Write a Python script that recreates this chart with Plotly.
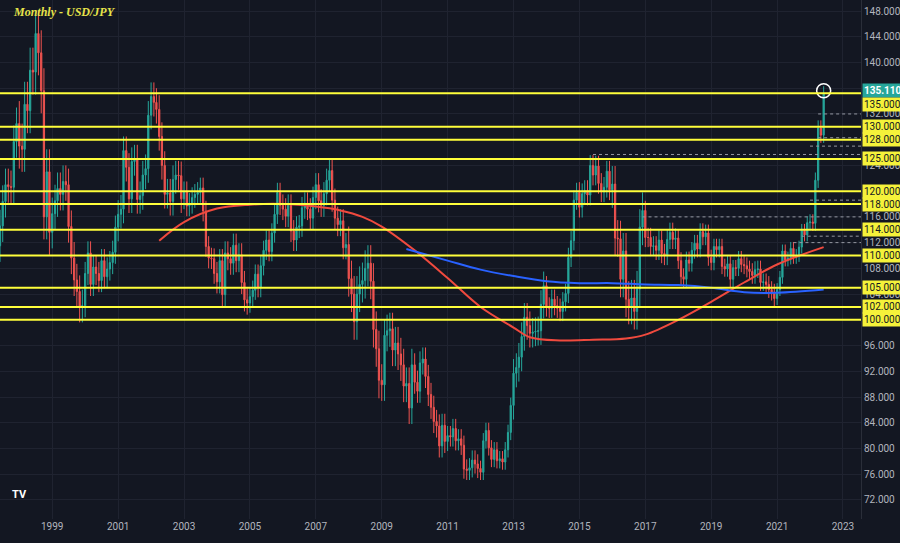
import plotly.graph_objects as go
import pandas as pd

start = "1997-06-01"
closes = [
 114.6,118.4,121.0,120.7,120.6,127.7,130.5,
 127.0,126.5,133.5,132.5,138.8,138.5,144.5,141.5,135.6,116.0,123.0,113.6,
 116.5,118.5,120.4,119.5,121.5,121.0,114.5,109.6,106.2,104.4,102.1,102.2,
 107.2,110.4,105.5,108.2,107.2,106.1,109.2,106.7,107.9,108.9,110.5,114.4,
 116.4,117.2,126.3,123.7,118.8,124.6,125.0,118.7,119.3,122.5,123.5,131.8,
 134.7,133.8,132.7,128.5,124.0,119.5,119.7,118.4,121.8,122.5,122.4,118.8,
 119.9,117.7,118.1,119.0,119.5,119.8,120.5,116.9,111.4,109.6,109.5,107.2,
 105.9,109.2,103.9,110.4,109.5,108.8,111.6,109.2,110.1,105.8,103.1,102.6,
 103.6,104.6,107.1,105.0,108.4,110.8,112.4,110.6,113.5,116.4,119.8,117.8,
 117.2,116.1,117.8,113.8,112.4,114.4,114.6,117.4,118.1,117.2,115.8,119.0,
 121.0,118.5,117.8,119.6,121.7,123.2,118.6,115.8,114.8,115.4,111.2,111.7,
 106.4,104.0,99.7,104.0,105.5,106.1,108.0,108.8,106.0,98.5,95.5,90.6,
 89.9,97.6,98.3,98.6,95.3,96.4,94.7,93.0,89.7,90.1,86.3,93.0,
 90.3,88.9,93.3,93.9,91.2,88.4,86.4,84.2,83.5,80.4,83.6,81.1,
 82.0,81.8,83.1,81.2,81.5,80.5,76.8,76.6,77.0,78.2,77.6,76.9,
 76.3,81.2,82.8,80.1,78.3,79.8,78.1,78.4,77.9,79.8,82.5,86.7,
 91.7,92.6,94.2,97.4,100.4,99.1,97.9,98.1,98.2,98.3,102.4,105.3,
 102.0,101.8,103.2,102.2,101.8,101.3,102.8,104.1,109.7,112.3,118.6,119.8,
 117.5,119.6,120.1,119.4,124.0,122.5,123.9,121.2,119.9,120.6,123.1,120.2,
 121.1,112.7,112.6,106.3,110.7,103.2,102.1,103.4,101.3,104.8,114.4,117.0,
 112.8,112.8,111.4,111.5,110.8,112.4,110.3,110.0,112.5,113.6,112.5,112.7,
 109.2,106.7,106.3,109.3,108.8,110.8,111.9,111.0,113.7,112.9,113.5,109.7,
 108.9,111.4,110.9,111.4,108.3,107.9,108.7,106.3,108.1,108.0,109.5,108.6,
 108.4,107.9,107.5,106.9,107.8,107.9,105.8,105.9,105.5,104.7,104.3,103.3,
 104.7,106.6,110.7,109.3,109.6,111.1,109.7,110.0,111.3,113.9,113.2,115.1,
 115.2,115.0,121.7,129.8,128.7,135.11]
first_open = 111.5
# typical wick size per year 1997..2022
year_wick = {1997:2.5,1998:3.5,1999:2.5,2000:1.8,2001:2.2,2002:2.2,2003:1.6,2004:1.8,
             2005:1.5,2006:1.7,2007:1.8,2008:2.8,2009:2.5,2010:1.8,2011:1.5,2012:1.2,
             2013:2.2,2014:1.5,2015:1.6,2016:2.8,2017:1.5,2018:1.3,2019:1.2,2020:1.3,
             2021:1.0,2022:1.2}

dates = pd.date_range(start, periods=len(closes), freq="MS")
opens = [first_open] + closes[:-1]
highs, lows = [], []
for d, o, c in zip(dates, opens, closes):
    w = year_wick[d.year]
    highs.append(max(o, c) + w)
    lows.append(min(o, c) - w)

red_x = ["2002-04-01","2003-01-01","2004-01-01","2005-01-01","2006-01-01","2007-01-01","2007-10-01",
         "2008-06-01","2009-01-01","2010-01-01","2011-01-01","2012-01-01","2013-01-01","2013-07-01",
         "2014-06-01","2015-06-01","2016-06-01","2017-01-01","2018-01-01","2019-01-01","2020-01-01",
         "2021-01-01","2022-06-01"]
red_y = [112.3,115.2,117.3,117.9,118.0,117.6,117.0,
         116.0,114.5,110.8,106.5,102.0,98.8,97.3,
         96.8,96.9,97.1,97.7,100.0,102.8,105.8,108.6,111.3]
blue_x = ["2009-10-01","2011-01-01","2012-01-01","2013-01-01","2014-01-01","2015-01-01","2016-01-01",
          "2017-01-01","2018-01-01","2019-01-01","2020-01-01","2021-01-01","2022-06-01"]
blue_y = [111.0,109.2,107.8,106.8,106.0,105.7,105.7,105.5,105.4,105.0,104.3,104.2,104.7]

levels = [135.11,135.0,130.0,128.0,125.0,120.0,118.0,114.0,110.0,105.0,102.0,100.0]
line_levels = [135.2,130.0,128.0,125.0,120.0,118.0,114.0,110.0,105.0,102.0,100.0]
dotted = [("2022-04-01",132.0),("2022-04-01",128.3),("2022-01-01",127.0),("2015-06-01",125.7),
          ("2022-01-01",118.6),("2016-12-01",116.0),("2021-10-01",113.0),("2021-07-01",112.0)]
tick_vals = list(range(72, 152, 4))
year_ticks = [str(y) for y in range(1999, 2024, 2)]

bg = "#131722"
fig = go.Figure()
fig.add_trace(go.Candlestick(x=dates, open=opens, high=highs, low=lows, close=closes,
    increasing=dict(line=dict(color="#26a69a", width=1), fillcolor="#26a69a"),
    decreasing=dict(line=dict(color="#ef5350", width=1), fillcolor="#ef5350"),
    whiskerwidth=0, showlegend=False))
fig.add_trace(go.Scatter(x=red_x, y=red_y, mode="lines", line=dict(color="#f04a3e", width=2, shape="spline"), showlegend=False))
fig.add_trace(go.Scatter(x=blue_x, y=blue_y, mode="lines", line=dict(color="#2962ff", width=2, shape="spline"), showlegend=False))

for x0, y in dotted:
    fig.add_shape(type="line", xref="x", yref="y", x0=x0, x1="2023-07-20", y0=y, y1=y,
                  line=dict(color="#9598a1", width=1, dash="dot"))
for y in line_levels:
    fig.add_shape(type="line", xref="paper", yref="y", x0=0, x1=1, y0=y, y1=y,
                  line=dict(color="#ffff3b", width=2))
fig.add_trace(go.Scatter(x=[dates[-1]], y=[135.6], mode="markers",
    marker=dict(symbol="circle-open", size=14, color="white", line=dict(width=1.5, color="white")), showlegend=False))

lab_font = dict(color="#131722", size=10, family="Roboto")
for v in levels:
    if v == 135.11:
        fig.add_annotation(x=1, xref="paper", y=135.6, yref="y", text="<b>135.110</b>", showarrow=False,
            xanchor="left", bgcolor="#26a69a", font=dict(color="white", size=10, family="Roboto"), borderpad=1, xshift=1)
    elif v == 135.0:
        fig.add_annotation(x=1, xref="paper", y=133.5, yref="y", text="135.000", showarrow=False,
            xanchor="left", bgcolor="#f5f23a", font=lab_font, borderpad=1, xshift=1)
    else:
        fig.add_annotation(x=1, xref="paper", y=v, yref="y", text=f"{v:.3f}", showarrow=False,
            xanchor="left", bgcolor="#f5f23a", font=lab_font, borderpad=1, xshift=1)

fig.add_annotation(x=0.013, xref="paper", y=0.995, yref="paper", text="<b><i>Monthly - USD/JPY</i></b>", showarrow=False,
    xanchor="left", yanchor="top", font=dict(color="#e6e34a", size=12, family="Liberation Serif"))
fig.add_annotation(x=0.012, xref="paper", y=0.03, yref="paper", text="<b>TV</b>", showarrow=False,
    xanchor="left", yanchor="bottom", font=dict(color="white", size=11, family="Roboto"))

fig.update_layout(width=900, height=543, margin=dict(l=0, r=39, t=0, b=24),
    paper_bgcolor=bg, plot_bgcolor=bg, font=dict(family="Roboto", color="#b2b5be", size=10),
    xaxis=dict(type="date", range=["1997-06-01","2023-07-20"], rangeslider=dict(visible=False),
               tickvals=[f"{y}-01-01" for y in year_ticks], ticktext=year_ticks,
               showgrid=True, gridcolor="#1f2330", zeroline=False, showline=False, ticks=""),
    yaxis=dict(side="right", range=[69.04, 149.71], tickvals=tick_vals, ticktext=[f"{v:.3f}" for v in tick_vals],
               showgrid=True, gridcolor="#1f2330", zeroline=False, ticks="", showline=True, linecolor="#2a2e39"))
fig.write_html("out.html", config={"displayModeBar": False},
               post_script="document.body.style.margin='0';document.body.style.background='#131722';")
